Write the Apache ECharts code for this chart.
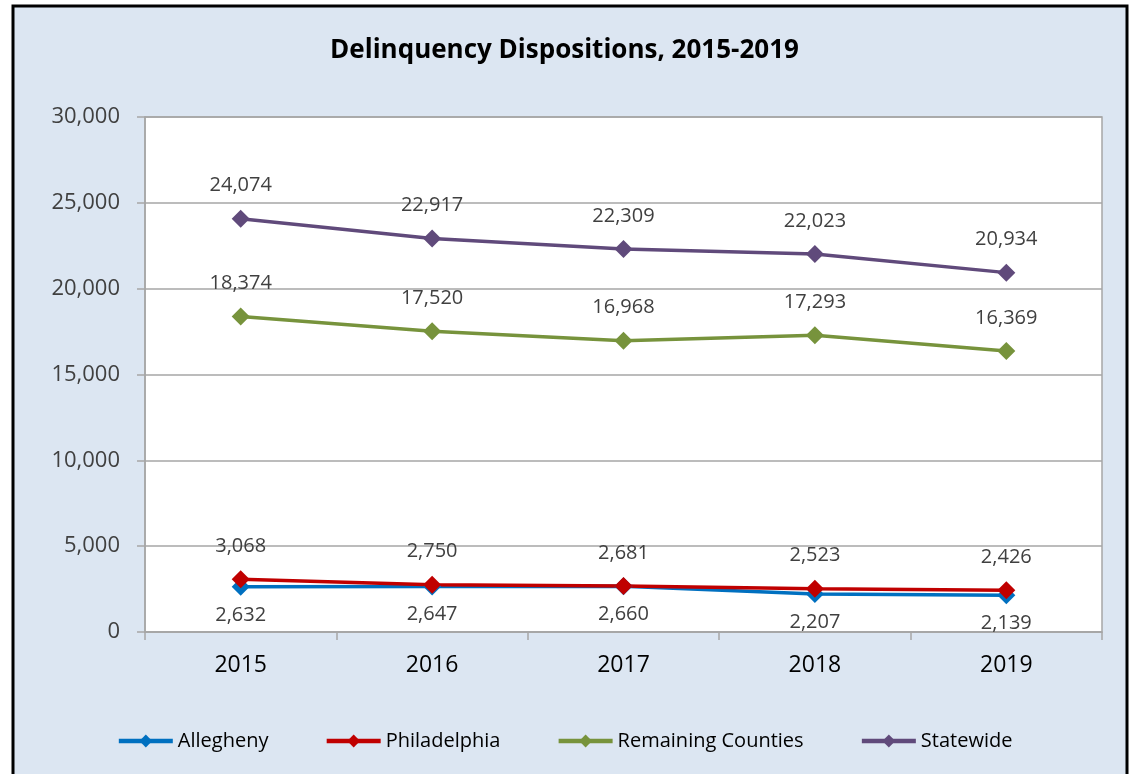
<!DOCTYPE html>
<html>
<head>
<meta charset="utf-8">
<script src="https://cdn.jsdelivr.net/npm/echarts@6/dist/echarts.min.js"></script>
<style>
  html, body { margin: 0; padding: 0; background: #fff; }
  #main { width: 1129px; height: 774px; }
</style>
</head>
<body>
<div id="main"></div>
<script>
// chart data
const years = ['2015', '2016', '2017', '2018', '2019'];
const allegheny = [2632, 2647, 2660, 2207, 2139];
const philadelphia = [3068, 2750, 2681, 2523, 2426];
const remaining = [18374, 17520, 16968, 17293, 16369];
const statewide = [24074, 22917, 22309, 22023, 20934];

const font = '"Open Sans", "Noto Sans", sans-serif';
const fmt = (v) => v.toLocaleString('en-US');

function makeSeries(name, data, color, labelPos) {
  return {
    name: name,
    type: 'line',
    data: data,
    symbol: 'diamond',
    symbolSize: 18,
    lineStyle: { width: 3.5, color: color },
    itemStyle: { color: color },
    label: {
      show: true,
      position: labelPos,
      distance: labelPos === 'top' ? 14 : 9,
      fontFamily: font,
      fontSize: 20,
      color: '#404040',
      formatter: (p) => fmt(p.value)
    },
    emphasis: { disabled: true },
    animation: false
  };
}

const chart = echarts.init(document.getElementById('main'));
chart.setOption({
  backgroundColor: '#fff',
  graphic: [{
    type: 'rect',
    z: -100,
    shape: { x: 13, y: 6, width: 1114, height: 800 },
    style: { fill: '#dce6f2', stroke: '#000', lineWidth: 3 }
  }],
  title: {
    text: 'Delinquency Dispositions, 2015-2019',
    left: 'center',
    top: 33,
    textStyle: { fontFamily: font, fontSize: 26, fontWeight: 'bold', color: '#000' }
  },
  grid: {
    left: 145, top: 117, width: 957, height: 515,
    show: true,
    backgroundColor: '#fff',
    borderColor: '#a6a6a6',
    borderWidth: 1.5
  },
  legend: {
    top: 726,
    left: 'center',
    itemWidth: 54,
    itemHeight: 16,
    itemGap: 56,
    lineStyle: { width: 4.5 },
    textStyle: { fontFamily: font, fontSize: 20, color: '#000' },
    data: ['Allegheny', 'Philadelphia', 'Remaining Counties', 'Statewide']
  },
  xAxis: {
    type: 'category',
    data: years,
    boundaryGap: true,
    axisLine: { lineStyle: { color: '#a6a6a6', width: 1.5 } },
    axisTick: { show: true, length: 8, interval: 0, lineStyle: { color: '#a6a6a6', width: 1.5 } },
    axisLabel: { fontFamily: font, fontSize: 23, color: '#000', margin: 22 }
  },
  yAxis: {
    type: 'value',
    min: 0, max: 30000, interval: 5000,
    axisLine: { show: true, lineStyle: { color: '#a6a6a6', width: 1.5 } },
    axisTick: { show: true, length: 8, lineStyle: { color: '#a6a6a6', width: 1.5 } },
    splitLine: { lineStyle: { color: '#a6a6a6', width: 1.5 } },
    axisLabel: { fontFamily: font, fontSize: 22, color: '#404040', margin: 25, formatter: fmt }
  },
  series: [
    makeSeries('Allegheny', allegheny, '#0070c0', 'bottom'),
    makeSeries('Philadelphia', philadelphia, '#c00000', 'top'),
    makeSeries('Remaining Counties', remaining, '#77933c', 'top'),
    makeSeries('Statewide', statewide, '#604a7b', 'top')
  ]
});
</script>
</body>
</html>
